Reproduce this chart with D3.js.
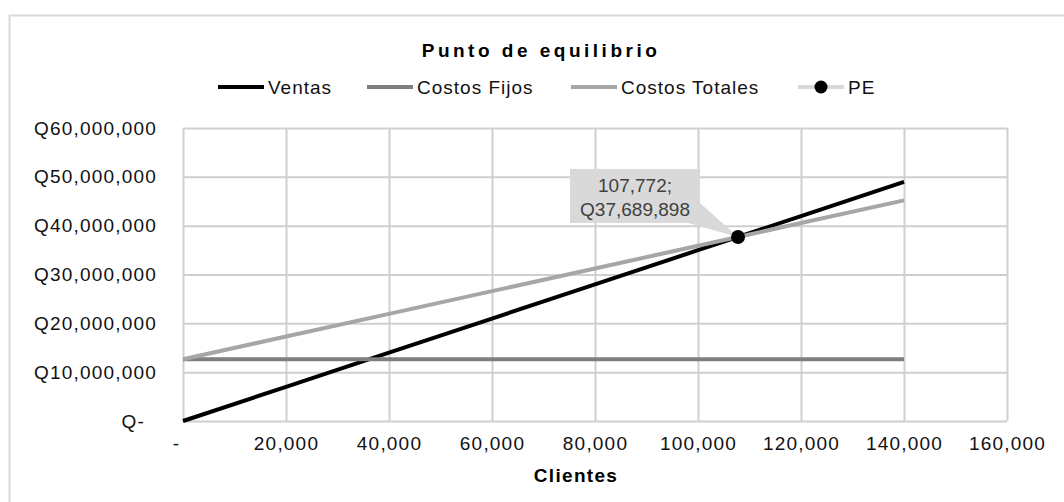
<!DOCTYPE html>
<html>
<head>
<meta charset="utf-8">
<script src="https://cdn.jsdelivr.net/npm/d3@7"></script>
<style>
  html, body { margin: 0; padding: 0; background: #fff; }
  svg { display: block; }
  text { font-family: "Liberation Sans", Arial, sans-serif; }
</style>
</head>
<body>
<svg id="chart" width="1064" height="502"></svg>
<script>
// ---- data ----
const clientes = [0, 20000, 40000, 60000, 80000, 100000, 120000, 140000];
const ventas = [0, 6994400, 13988800, 20983200, 27977600, 34972000, 41966400, 48960800];
const costosFijos = [12650000, 12650000, 12650000, 12650000, 12650000, 12650000, 12650000, 12650000];
const costosTotales = [12650000, 17296800, 21943600, 26590400, 31237200, 35884000, 40530800, 45177600];
const peClientes = [107772];
const peMonto = [37689898];
const xTicks = [0, 20000, 40000, 60000, 80000, 100000, 120000, 140000, 160000];
const yTicks = [0, 10000000, 20000000, 30000000, 40000000, 50000000, 60000000];
const seriesNames = ["Ventas", "Costos Fijos", "Costos Totales", "PE"];
const chartTitle = "Punto de equilibrio";
const xTitle = "Clientes";

(function () {
// ---- layout ----
const svg = d3.select("#chart");
const pLeft = 183, pRight = 1007, pTop = 128, pBottom = 421;
const x = d3.scaleLinear().domain([0, 160000]).range([pLeft, pRight]);
const y = d3.scaleLinear().domain([0, 60000000]).range([pBottom, pTop]);
const fmtN = d3.format(",");

// outer chart border
svg.append("rect").attr("x", 9.5).attr("y", 15.5).attr("width", 1070).attr("height", 500)
  .attr("fill", "#fff").attr("stroke", "#d9d9d9").attr("stroke-width", 2);

// gridlines
const gridColor = "#cfcfcf";
const gx = svg.append("g").attr("transform", `translate(0,${pBottom})`)
  .call(d3.axisBottom(x).tickValues(xTicks).tickSize(-(pBottom - pTop)).tickFormat(""));
gx.select(".domain").remove();
gx.selectAll("line").attr("stroke", gridColor).attr("stroke-width", 2);
const gy = svg.append("g").attr("transform", `translate(${pLeft},0)`)
  .call(d3.axisLeft(y).tickValues(yTicks).tickSize(-(pRight - pLeft)).tickFormat(""));
gy.select(".domain").remove();
gy.selectAll("line").attr("stroke", gridColor).attr("stroke-width", 2);

// axis labels
const xa = svg.append("g").attr("transform", `translate(0,${pBottom})`)
  .call(d3.axisBottom(x).tickValues(xTicks).tickSize(0).tickPadding(16)
    .tickFormat(d => d === 0 ? "-" : fmtN(d)));
xa.select(".domain").remove();
xa.selectAll("text").attr("font-size", 19).attr("fill", "#111")
  .attr("font-family", "Liberation Sans, Arial, sans-serif")
  .style("letter-spacing", "1.2px")
  .attr("dx", d => d === 0 ? -7 : 0);

const ya = svg.append("g").attr("transform", `translate(${pLeft},0)`)
  .call(d3.axisLeft(y).tickValues(yTicks).tickSize(0).tickPadding(26)
    .tickFormat(d => d === 0 ? "Q-" : "Q" + fmtN(d)));
ya.select(".domain").remove();
ya.selectAll("text").attr("font-size", 19).attr("fill", "#111")
  .attr("font-family", "Liberation Sans, Arial, sans-serif")
  .style("letter-spacing", "1.2px")
  .attr("dx", d => d === 0 ? -12 : 0);

// series lines
const pts = vals => clientes.map((c, i) => [c, vals[i]]);
const line = d3.line().x(d => x(d[0])).y(d => y(d[1]));
const series = [
  { vals: ventas, color: "#000000" },
  { vals: costosFijos, color: "#7f7f7f" },
  { vals: costosTotales, color: "#a6a6a6" }
];
series.forEach(s => {
  svg.append("path").datum(pts(s.vals)).attr("d", line)
    .attr("fill", "none").attr("stroke", s.color).attr("stroke-width", 4)
    .attr("stroke-linecap", "butt");
});

// PE point and data label
const px = x(peClientes[0]), py = y(peMonto[0]);
const boxR = px - 38, boxB = py - 14, boxW = 130, boxH = 54;
svg.append("polygon")
  .attr("points", [[boxR - 12, boxB], [px, py], [boxR, boxB - 20]].map(p => p.join(",")).join(" "))
  .attr("fill", "#d9d9d9");
svg.append("rect").attr("x", boxR - boxW).attr("y", boxB - boxH)
  .attr("width", boxW).attr("height", boxH).attr("fill", "#d9d9d9");
const lbl = svg.append("text").attr("text-anchor", "middle")
  .attr("font-family", "Lato, 'Open Sans', sans-serif").attr("font-size", 19).attr("fill", "#404040");
lbl.append("tspan").attr("x", boxR - boxW / 2).attr("y", boxB - boxH + 23).text(fmtN(peClientes[0]) + ";");
lbl.append("tspan").attr("x", boxR - boxW / 2).attr("y", boxB - boxH + 47).text("Q" + fmtN(peMonto[0]));
svg.append("circle").attr("cx", px).attr("cy", py).attr("r", 7).attr("fill", "#000");

// title
svg.append("text").attr("x", 541).attr("y", 57).attr("text-anchor", "middle")
  .attr("font-size", 19).attr("font-weight", "bold").attr("fill", "#000")
  .style("letter-spacing", "3.5px").text(chartTitle);

// x axis title
svg.append("text").attr("x", 576).attr("y", 482).attr("text-anchor", "middle")
  .attr("font-size", 19).attr("font-weight", "bold").attr("fill", "#000")
  .style("letter-spacing", "1.3px").text(xTitle);

// legend
const legendX = [218, 367, 571, 798];
const legendColors = ["#000000", "#7f7f7f", "#a6a6a6", "#d9d9d9"];
const ly = 87;
seriesNames.forEach((name, i) => {
  const g = svg.append("g");
  g.append("line").attr("x1", legendX[i]).attr("x2", legendX[i] + 46)
    .attr("y1", ly).attr("y2", ly).attr("stroke", legendColors[i]).attr("stroke-width", 4);
  if (i === 3) {
    g.append("circle").attr("cx", legendX[i] + 23).attr("cy", ly).attr("r", 6.5).attr("fill", "#000");
  }
  g.append("text").attr("x", legendX[i] + 50).attr("y", ly + 6.5)
    .attr("font-size", 19).attr("fill", "#111").style("letter-spacing", "1px").text(name);
});
})();
</script>
</body>
</html>
